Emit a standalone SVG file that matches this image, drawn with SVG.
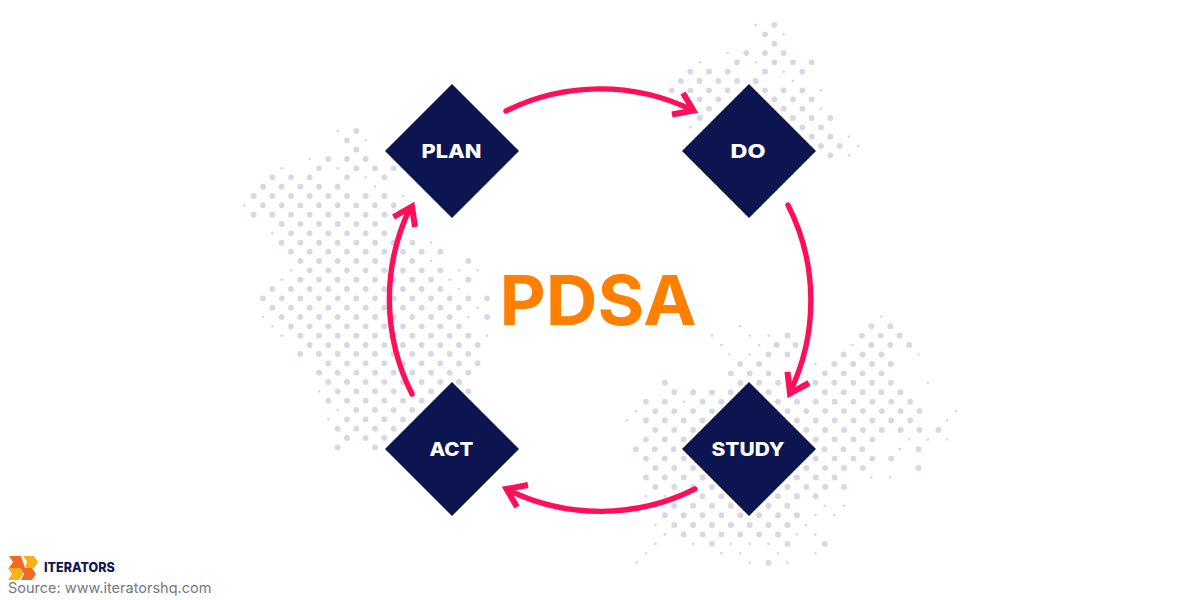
<svg xmlns="http://www.w3.org/2000/svg" width="1200" height="600" viewBox="0 0 1200 600">
<style>
.b{fill:none;stroke:#d7d8e4;stroke-width:17.5;stroke-linecap:round;stroke-dasharray:0 56}
.s{fill:none;stroke:#d7d8e4;stroke-width:8;stroke-linecap:round}
.d{fill:#0d1551}
.l{font-family:Inter,"Liberation Sans",sans-serif;font-weight:800;font-size:19px;fill:#fff;text-anchor:middle}
.c{fill:none;stroke:#ff0f5a;stroke-width:5.400;stroke-linecap:round}
.h{fill:none;stroke:#ff0f5a;stroke-width:6;stroke-linejoin:miter;stroke-miterlimit:6}
</style>
<rect width="1200" height="600" fill="#fff"/>
<g id="dots-left" transform="translate(230 120) scale(.33333)">
<path class="b" d="M379 33h1M351 61h1M379 89h1M295 117H408M267 145h1M379 145H492M127 172H240M351 172h1M463 172h1M99 200H324M71 228H464M99 256H492M71 284H464M155 312H436M183 340H464M155 368H492M547 368h1M183 395H632M211 423H548M715 423h1M239 451H632M211 479H604M715 479h1M127 507H632M99 535H772M127 563H688M155 591H660M771 591h1M183 619H688M211 647H716M239 675H744M211 702H716M295 730H744M267 758H716M295 786H688M323 814H604M715 814h1M295 842H576M379 870H548M351 898H520M323 926H492M351 954H464M323 982h1M435 982h1"/>
<path class="s" d="M323 33h0M407 61h0M239 117h0M155 145h0M323 145h0M407 172h0M435 200h0M519 228h0M43 256h0M127 340h0M603 368h0M603 423h0M183 451h0M687 451h0M743 451h0M155 479h0M659 479h0M687 507h0M743 563h0M99 591h0M715 591h0M127 619h0M155 647h0M771 647h0M267 814h0M323 870h0M295 898h0"/>
</g>
<g id="dots-top" transform="translate(640 10) scale(.33333)">
<path class="b" d="M403 45h1M375 73h1M403 101h1M319 129H432M291 157h1M403 157H516M151 185H264M375 185h1M487 185h1M123 213H348M95 241H264M375 241H488M179 268H516M207 296H488M179 324H572M487 352H544M515 380H572M543 408H600M571 436h1"/>
<path class="s" d="M347 45h0M431 73h0M263 129h0M179 157h0M347 157h0M431 185h0M459 213h0M543 241h0M543 296h0M151 352h0M627 380h0M655 408h0M627 436h0"/>
</g>
<g id="dots-right" transform="translate(620 310) scale(.33693)">
<path class="b" d="M746 48H803M497 76h1M718 76H831M465 104H523M746 104H859M441 132H498M664 132H831M357 160H468M636 160H859M329 188H498M608 188H831M133 216h1M357 216H470M580 216H859M161 244H442M608 244H887M77 272H134M245 272H915M105 300H890M77 328H915M105 356H999M77 384H803M47 413H775M886 413h1M77 441H859M105 469H775M886 469h1M77 497H693M105 525H721M245 553H637M161 581H553M133 609H526M161 638H498M189 666H470M273 694h1M497 694H553M608 694h1M441 750h1"/>
<path class="s" d="M776 20h0M357 48h0M273 76h0M385 76h0M441 76h0M301 104h0M413 104h0M690 104h0M325 132h0M385 132h0M886 132h0M580 160h0M914 216h0M217 244h0M273 244h0M189 272h0M47 300h0M886 300h0M998 300h0M20 328h0M970 328h0M858 384h0M914 384h0M970 384h0M830 413h0M746 497h0M802 497h0M664 525h0M77 553h0M133 553h0M608 581h0M664 581h0M580 609h0M636 609h0M105 638h0M552 638h0M133 666h0M525 666h0M580 666h0M105 694h0M217 694h0M329 694h0M385 694h0M441 694h0M77 722h0M301 722h0M357 722h0M469 722h0M580 722h0M49 750h0M385 750h0M497 750h0"/>
</g>
<g id="connectors">
<path class="c" d="M506 111A211 211 0 0 1 692 110"/>
<path class="c" d="M788 205A211 211 0 0 1 790 392"/>
<path class="c" d="M695 489A211 211 0 0 1 508 490"/>
<path class="c" d="M412 394A211 211 0 0 1 410 208"/>
<path class="h" d="M683 93L693.500 110.500L672 114.500"/>
<path class="h" d="M787.500 372L790 393.500L809 383"/>
<path class="h" d="M528 485L506.500 489L517 507"/>
<path class="h" d="M393.500 217L412 206.500L415 227"/>
</g>
<g id="node-plan"><polygon class="d" points="452,84 519,151 452,218 385,151"/><text class="l" x="451.500" y="158" textLength="60" lengthAdjust="spacingAndGlyphs">PLAN</text></g>
<g id="node-do"><polygon class="d" points="749,84 816,151 749,218 682,151"/><text class="l" x="748" y="158" textLength="35" lengthAdjust="spacingAndGlyphs">DO</text></g>
<g id="node-study"><polygon class="d" points="749,382 816,449 749,516 682,449"/><text class="l" x="748" y="455.500" textLength="73" lengthAdjust="spacingAndGlyphs">STUDY</text></g>
<g id="node-act"><polygon class="d" points="452,382 519,449 452,516 385,449"/><text class="l" x="451.500" y="455.500" textLength="44" lengthAdjust="spacingAndGlyphs">ACT</text></g>
<text id="title" x="598" y="325" text-anchor="middle" textLength="197" lengthAdjust="spacingAndGlyphs" style="font-family:Inter,'Liberation Sans',sans-serif;font-weight:700;font-size:69px;fill:#ff7f00">PDSA</text>
<g id="logo">
<polygon fill="#f26a21" points="9,556 21,556 25,568 21,568 9,568 13,562"/>
<polygon fill="#fbb017" points="23,556 34,556 38,562 34,568 25,568 27,562"/>
<polygon fill="#fbb017" points="8,568 20,568 23,574 19,580 8,580 12,574"/>
<polygon fill="#f26a21" points="20,568 32,568 36,574 32,580 21,580 24,574"/>
<text x="44" y="572" style="font-family:Inter,'Liberation Sans',sans-serif;font-weight:800;font-size:12.500px;fill:#0e1552">ITERATORS</text>
</g>
<text id="source" x="8" y="593" style="font-family:Inter,'Liberation Sans',sans-serif;font-size:14.500px;fill:#77777f">Source: www.iteratorshq.com</text>
</svg>
